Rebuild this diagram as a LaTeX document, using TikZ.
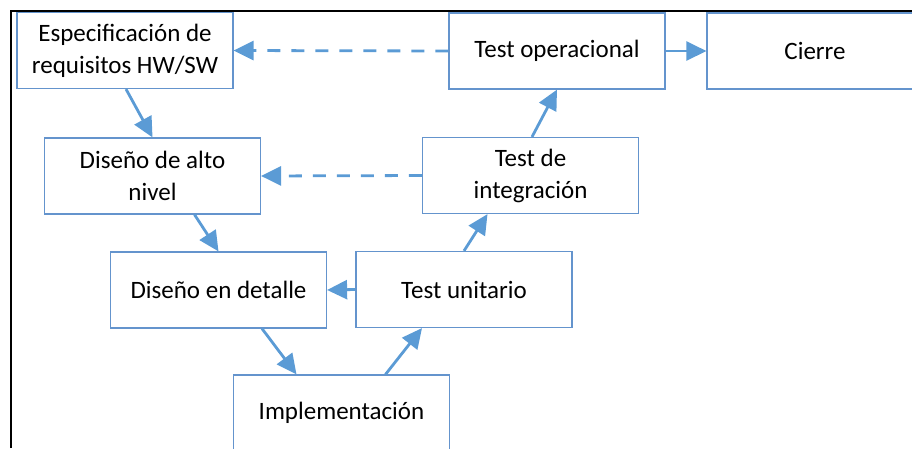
\documentclass[tikz,border=0pt]{standalone}
\usepackage{fontspec}
\setmainfont{Carlito}
\usetikzlibrary{arrows.meta}
\definecolor{boxline}{RGB}{100,148,205}
\definecolor{flow}{RGB}{91,155,213}
\begin{document}
\begin{tikzpicture}
  [x=1pt,y=-1pt,
   phase/.style={draw=boxline,line width=1.2pt,fill=white,minimum width=216pt,
     minimum height=76pt,inner sep=0pt,align=center,
     font=\fontsize{25}{32}\selectfont},
   flowarrow/.style={draw=flow,line width=2.8pt,-{Triangle[length=20pt,width=19pt]}},
   backarrow/.style={flowarrow,dash pattern=on 13pt off 11pt}]
  \useasboundingbox (0,0) rectangle (912,448);
  \clip (0,0) rectangle (912,448);
  \draw [line width=2pt] (11,448) -- (11,11) -- (912,11);

  \node (spec) at (125,50.5) [phase] {Especificación de\\requisitos HW/SW};
  \node (oper) at (557,51) [phase] {Test operacional};
  \node (cierre) at (815,51) [phase] {Cierre};

  \node (alto) at (152.5,176) [phase] {Diseño de alto\\nivel};
  \node (integ) at (530.5,175.5) [phase] {Test de\\integración};

  \node (detalle) at (218.5,290) [phase] {Diseño en detalle};
  \node (unit) at (464,289.5) [phase] {Test unitario};

  \node (impl) at (341.5,413) [phase] {Implementación};

  \draw [flowarrow] ([xshift=1pt]spec.south) to (alto.north);
  \draw [flowarrow] ([xshift=42pt]alto.south) to (detalle.north);
  \draw [flowarrow] ([xshift=43.5pt]detalle.south) to ([xshift=-45pt]impl.north);
  \draw [flowarrow] ([xshift=44pt]impl.north) to ([xshift=-42pt]unit.south);
  \draw [flowarrow] (unit.north) to ([xshift=-43pt]integ.south);
  \draw [flowarrow] ([xshift=1.5pt]integ.north) to (oper.south);
  \draw [flowarrow] (oper.east) to (cierre.west);
  \draw [flowarrow] (unit.west) to (detalle.east);
  \draw [backarrow] (oper.west) to (spec.east);
  \draw [backarrow] (integ.west) to (alto.east);
\end{tikzpicture}
\end{document}
